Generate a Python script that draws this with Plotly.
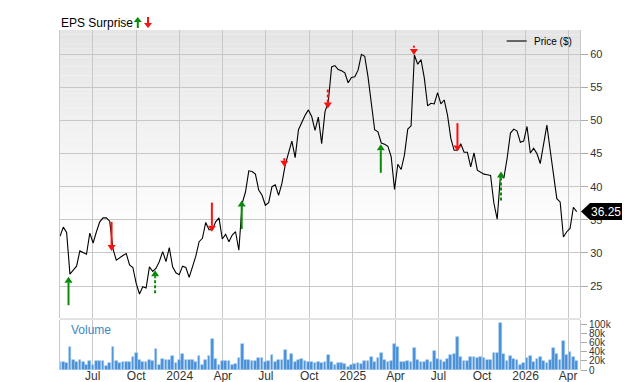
import plotly.graph_objects as go
import pandas as pd

# ---------------- data ----------------
start_date = "2023-04-23"
price = [32.5, 33.9, 33.1, 26.8, 27.4, 28.0, 30.3, 30.0, 29.8, 33.0,
         31.5, 33.2, 34.7, 35.3, 35.3, 34.8, 30.6, 28.9, 29.3, 29.6,
         29.9, 28.2, 27.8, 25.4, 23.8, 24.9, 24.7, 27.9, 27.2, 27.7,
         28.7, 30.2, 28.7, 30.8, 27.9, 27.0, 26.7, 28.0, 27.8, 26.3,
         27.9, 29.5, 31.7, 32.2, 34.6, 33.5, 33.5, 34.7, 35.3, 32.1,
         32.8, 31.7, 32.7, 33.2, 30.4, 37.5, 39.2, 42.4, 42.3, 41.9,
         39.5, 38.7, 37.2, 37.6, 40.0, 40.3, 38.7, 40.5, 43.3, 45.0,
         46.9, 44.4, 48.6, 49.7, 50.8, 51.6, 50.6, 48.5, 50.5, 46.5,
         51.3, 52.8, 58.1, 58.3, 57.7, 57.5, 57.2, 55.7, 56.5, 56.6,
         57.6, 60.0, 59.7, 56.6, 52.1, 48.6, 48.3, 46.6, 46.4, 46.1,
         44.5, 39.6, 43.4, 42.6, 44.8, 48.7, 49.2, 59.9, 58.5, 59.2,
         56.4, 52.2, 52.6, 52.5, 54.2, 52.5, 53.1, 50.8, 47.3, 45.5,
         45.5, 46.5, 45.2, 45.2, 43.0, 45.1, 42.5, 42.2, 41.9, 41.8,
         41.7, 37.5, 35.1, 41.8, 41.3, 44.3, 48.1, 48.7, 48.4, 46.7,
         46.9, 49.1, 45.1, 45.8, 45.0, 43.5, 46.6, 49.3, 45.5, 41.5,
         38.2, 37.7, 32.4, 33.2, 33.7, 36.9, 36.25]

volume_k = [18, 17, 15, 51, 22, 18, 23, 18, 11, 20,
            11, 19, 20, 20, 9, 15, 50, 20, 16, 17,
            17, 18, 29, 37, 21, 17, 17, 22, 20, 47,
            10, 25, 21, 21, 30, 15, 21, 36, 21, 21,
            23, 18, 31, 12, 21, 30, 67, 24, 12, 20,
            20, 20, 11, 13, 26, 58, 22, 21, 20, 20,
            26, 26, 18, 19, 32, 18, 22, 23, 43, 22,
            36, 17, 23, 25, 20, 18, 17, 15,
            18, 15, 18, 32, 18, 11, 15, 15, 14, 7,
            10, 13, 15, 14, 20, 20, 28, 18, 26, 37,
            23, 18, 19, 57, 50, 17, 18, 20, 18, 49,
            21, 17, 17, 23, 17, 42, 25, 21, 18, 25,
            32, 34, 72, 28, 20, 20, 28, 28, 27, 29,
            26, 23, 23, 38, 38, 103, 35, 19, 31, 25,
            23, 12, 15, 26, 31, 18, 24, 29, 20, 16,
            22, 48, 34, 23, 64, 33, 40, 28, 20]

x_tick_dates = ["2023-07-01", "2023-10-01", "2024-01-01", "2024-04-01",
                "2024-07-01", "2024-10-01", "2025-01-01", "2025-04-01",
                "2025-07-01", "2025-10-01", "2026-01-01", "2026-04-01"]
x_tick_text = ["Jul", "Oct", "2024", "Apr", "Jul", "Oct", "2025", "Apr",
               "Jul", "Oct", "2026", "Apr"]
price_ticks = [25, 30, 35, 40, 45, 50, 55, 60]
volume_ticks = [0, 20000, 40000, 60000, 80000, 100000]
volume_tick_text = ["0", "20k", "40k", "60k", "80k", "100k"]

eps_dates = ["2023-05-11", "2023-08-10", "2023-11-10", "2024-03-09",
             "2024-05-11", "2024-08-09", "2024-11-09", "2025-03-01",
             "2025-05-10", "2025-08-10", "2025-11-10"]
eps_price = [26.4, 30.3, 27.4, 33.2, 37.9, 43.0, 51.8, 46.4, 59.9, 45.3, 42.3]
eps_size = [4.3, 4.4, 3.5, 4.4, 4.3, 1.3, 2.9, 4.3, 1.4, 4.3, 4.4]
eps_kind = ["beat", "miss", "beat", "miss", "beat", "miss", "miss", "beat",
            "miss", "miss", "beat"]
eps_style = ["solid", "solid", "dash", "solid", "solid", "solid", "dash",
             "solid", "dot", "solid", "dash"]
last_price = 36.25

# ---------------- layout constants ----------------
W, H = 640, 382
ML, MR, MT, MB = 60, 60, 30, 12
PLOT_H = H - MT - MB
PRICE_DOMAIN = [(370 - 318) / PLOT_H, 1.0]
VOL_DOMAIN = [0.0, (370 - 320) / PLOT_H]
PRICE_RANGE = [20.17, 63.67]
VOL_RANGE = [0, 109600]
X_RANGE = ["2023-04-23", "2026-04-26"]
GREEN = "#0a8a0a"
RED = "#ff1010"
FONT = "Liberation Sans, Arial, sans-serif"

price_px_h = (PRICE_DOMAIN[1] - PRICE_DOMAIN[0]) * PLOT_H
ppu = price_px_h / (PRICE_RANGE[1] - PRICE_RANGE[0])  # pixels per price unit

dates = pd.date_range(start_date, periods=len(price), freq="7D")
vdates = pd.date_range(start_date, periods=len(volume_k), freq="7D")
volume = [v * 1000 for v in volume_k]

fig = go.Figure()

fig.add_trace(go.Bar(
    x=vdates, y=volume, xaxis="x", yaxis="y2",
    marker=dict(color="#4a8fd6", line=dict(color="#9cc8f0", width=0.6)),
    width=7 * 86400000 * 0.82, showlegend=False, hoverinfo="skip"))

fig.add_trace(go.Scatter(
    x=dates, y=price, mode="lines", xaxis="x", yaxis="y",
    line=dict(color="#000000", width=1.1), showlegend=False,
    hoverinfo="skip"))

shapes = []
# gradient background in price panel
top_px, bot_px = 30, 235
n = 45
for k in range(n):
    y0px = top_px + (bot_px - top_px) * k / n
    y1px = top_px + (bot_px - top_px) * (k + 1) / n
    c = int(229 + (255 - 229) * (k + 0.5) / n)
    shapes.append(dict(type="rect", xref="paper", yref="paper",
                       x0=0, x1=1, y0=(370 - y1px) / PLOT_H,
                       y1=(370 - y0px) / PLOT_H,
                       fillcolor=f"rgb({c},{c},{c})", line=dict(width=0),
                       layer="below"))
# separator band between panels
shapes.append(dict(type="rect", xref="paper", yref="paper", x0=0, x1=1,
                   y0=VOL_DOMAIN[1], y1=PRICE_DOMAIN[0],
                   fillcolor="#e2e2e2", line=dict(width=0), layer="below"))

# EPS arrows
HEAD_H, HEAD_W = 6, 4
for d, p, s, kind, style in zip(eps_dates, eps_price, eps_size, eps_kind, eps_style):
    col = GREEN if kind == "beat" else RED
    sign = 1 if kind == "beat" else -1   # beat arrows point up
    tail = p - sign * s
    base = p - sign * HEAD_H / ppu
    dash = {"solid": "solid", "dash": "3px,2px", "dot": "2px,2px"}[style]
    shapes.append(dict(type="line", xref="x", yref="y", x0=d, x1=d,
                       y0=tail, y1=base, line=dict(color=col, width=2, dash=dash),
                       layer="above"))
    shapes.append(dict(type="path", xref="x", yref="y",
                       xsizemode="pixel", ysizemode="pixel", xanchor=d, yanchor=p,
                       path=f"M 0,0 L {-HEAD_W},{-sign*HEAD_H} L {HEAD_W},{-sign*HEAD_H} Z",
                       fillcolor=col, line=dict(width=0), layer="above"))


def paper_y(px):
    return (370 - px) / PLOT_H


def paper_x(px):
    return (px - ML) / (W - ML - MR)


# title arrows
for xpx, tip_px, kind in [(137.8, 17, "beat"), (148, 28, "miss")]:
    col = GREEN if kind == "beat" else RED
    sign = 1 if kind == "beat" else -1
    shapes.append(dict(type="path", xref="paper", yref="paper",
                       xsizemode="pixel", ysizemode="pixel",
                       xanchor=paper_x(xpx), yanchor=paper_y(tip_px),
                       path=f"M 0,0 L -4,{-sign*5} L 4,{-sign*5} Z",
                       fillcolor=col, line=dict(width=0)))
    shapes.append(dict(type="line", xref="paper", yref="paper",
                       xsizemode="pixel", ysizemode="pixel",
                       xanchor=paper_x(xpx), yanchor=paper_y(tip_px),
                       x0=0, x1=0, y0=-sign * 4, y1=-sign * 11,
                       line=dict(color=col, width=2)))

# legend line
shapes.append(dict(type="line", xref="paper", yref="paper",
                   x0=paper_x(506.7), x1=paper_x(526.7),
                   y0=paper_y(41), y1=paper_y(41),
                   line=dict(color="#666666", width=2)))

# last price callout
shapes.append(dict(type="path", xref="paper", yref="y",
                   xsizemode="pixel", ysizemode="pixel", xanchor=1, yanchor=last_price,
                   path="M 1,0 L 10,8.5 L 42,8.5 L 42,-8.5 L 10,-8.5 Z",
                   fillcolor="#000000", line=dict(width=0)))

annotations = [
    dict(text="EPS Surprise", xref="paper", yref="paper", x=0, y=paper_y(23),
         xanchor="left", yanchor="middle", showarrow=False, xshift=-1,
         font=dict(size=12, color="#000000", family=FONT)),
    dict(text="Price ($)", xref="paper", yref="paper", x=paper_x(532), y=paper_y(41),
         xanchor="left", yanchor="middle", showarrow=False,
         font=dict(size=10, color="#000000", family=FONT)),
    dict(text="Volume", xref="paper", yref="paper", x=paper_x(69), y=paper_y(330),
         xanchor="left", yanchor="middle", showarrow=False,
         font=dict(size=12, color="#3a87c8", family=FONT)),
    dict(text=f"{last_price:.2f}", xref="paper", yref="y", x=1, y=last_price,
         xanchor="center", yanchor="middle", xshift=26, showarrow=False,
         font=dict(size=12, color="#ffffff", family=FONT)),
]

fig.update_layout(
    width=W, height=H,
    margin=dict(l=ML, r=MR, t=MT, b=MB, pad=0, autoexpand=False),
    paper_bgcolor="#ffffff", plot_bgcolor="#ffffff",
    font=dict(family=FONT, size=11, color="#333333"),
    showlegend=False,
    bargap=0,
    xaxis=dict(type="date", range=X_RANGE, anchor="y2", domain=[0, 1],
               tickvals=x_tick_dates, ticktext=x_tick_text,
               showgrid=True, gridcolor="#c8c8c8", gridwidth=1,
               ticks="", showline=False, zeroline=False, automargin=False,
               ticklabelstandoff=-3,
               tickfont=dict(size=12, color="#333333")),
    yaxis=dict(domain=PRICE_DOMAIN, range=PRICE_RANGE, anchor="x", side="right",
               tickvals=price_ticks, showgrid=True, gridcolor="#c8c8c8",
               ticks="outside", ticklen=7, tickcolor="#aaaaaa", automargin=False,
               showline=True, mirror=True, linecolor="#c8c8c8", linewidth=1,
               zeroline=False, tickfont=dict(size=11, color="#333333")),
    yaxis2=dict(domain=VOL_DOMAIN, range=VOL_RANGE, anchor="x", side="right",
                tickvals=volume_ticks, ticktext=volume_tick_text, showgrid=False,
                ticks="outside", ticklen=6, tickcolor="#aaaaaa", automargin=False,
                showline=True, mirror=True, linecolor="#c8c8c8", linewidth=1,
                zeroline=False, tickfont=dict(size=10, color="#333333")),
    shapes=shapes,
    annotations=annotations,
)

fig.write_html("out.html")
